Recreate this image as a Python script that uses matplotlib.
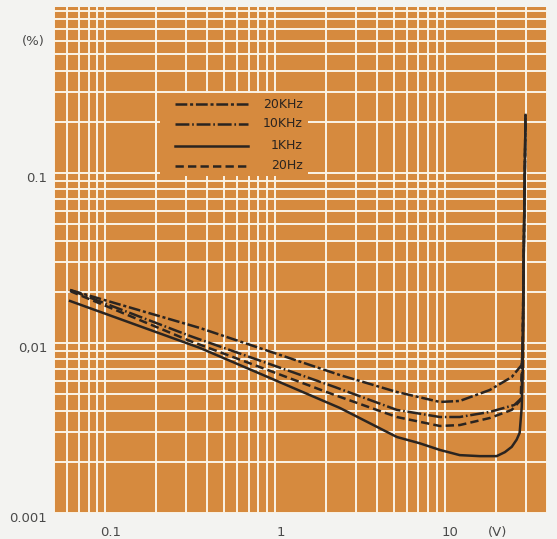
import matplotlib
matplotlib.use("Agg")
import matplotlib.pyplot as plt
from matplotlib.lines import Line2D
from matplotlib.patches import Rectangle

# ---- data (volts, distortion %) ----
x_20k = [0.0622, 0.362, 2.41, 5.22, 9.35, 12.25, 18.4, 24.8, 28.4, 28.8, 29.2, 29.9]
y_20k = [0.0205, 0.01225, 0.00648, 0.00515, 0.0045, 0.00456, 0.00529, 0.00631, 0.00743, 0.0104, 0.0352, 0.2194]

x_10k = [0.0622, 0.316, 2.25, 5.22, 9.35, 12.25, 18.4, 25.7, 28.4, 28.8, 29.2, 29.9]
y_10k = [0.0205, 0.0110, 0.00551, 0.00404, 0.00367, 0.00367, 0.00393, 0.00432, 0.00475, 0.0104, 0.0352, 0.2194]

x_1k = [0.0622, 0.362, 2.41, 5.22, 7.13, 9.35, 12.25, 16.1, 20.2, 22.6, 24.8, 26.5, 27.6, 28.4, 28.8, 29.2, 29.9]
y_1k = [0.01766, 0.00935, 0.00415, 0.0028, 0.00257, 0.00235, 0.00219, 0.00216, 0.00216, 0.00228, 0.00245, 0.0027, 0.00296, 0.0042, 0.00694, 0.0352, 0.2194]

x_20 = [0.0622, 0.316, 2.25, 5.22, 9.35, 12.25, 18.4, 24.8, 28.0, 28.8, 29.2, 29.9]
y_20 = [0.0202, 0.01028, 0.00494, 0.00367, 0.00325, 0.00329, 0.00362, 0.00404, 0.00462, 0.0104, 0.0352, 0.2194]

series_labels = ["20KHz", "10KHz", "1KHz", "20Hz"]
x_ticks = [0.1, 1, 10]
x_ticklabels = ["0.1", "1", "10"]
y_ticks = [0.001, 0.01, 0.1]
y_ticklabels = ["0.001", "0,01", "0.1"]

# ---- style ----
plt.rcParams["lines.scale_dashes"] = False
ORANGE = "#D68A3E"
GRID = "#FBF3E6"
INK = "#2A2420"
LABEL = "#4A4A4A"
styles = [
    dict(linestyle=(0, (8.5, 2.0, 2.2, 2.0))),
    dict(linestyle=(0, (10.0, 2.0, 1.2, 2.0))),
    dict(linestyle="-"),
    dict(linestyle=(0, (6.0, 3.0))),
]

fig = plt.figure(figsize=(5.57, 5.39), dpi=100, facecolor="#F3F3F1")
ax = fig.add_axes([54 / 557, 26 / 539, 493 / 557, 506 / 539])
ax.set_facecolor(ORANGE)
ax.set_xscale("log")
ax.set_yscale("log")
ax.set_xlim(0.05, 40)
ax.set_ylim(0.001, 0.947)
for s in ax.spines.values():
    s.set_visible(False)
ax.set_axisbelow(True)
ax.grid(True, which="both", color=GRID, linewidth=1.4)
ax.tick_params(which="both", length=0, labelbottom=False, labelleft=False)

data = [(x_20k, y_20k), (x_10k, y_10k), (x_1k, y_1k), (x_20, y_20)]
for (xs, ys), st in zip(data, styles):
    ax.plot(xs, ys, color=INK, linewidth=1.8, zorder=3, **st)

ax.set_xticks(x_ticks)
ax.set_yticks(y_ticks)

# tick labels (slightly offset like the printed original)
for v, t in zip(y_ticks, y_ticklabels):
    ax.annotate(t, xy=(0, v), xycoords=("axes fraction", "data"),
                xytext=(-5, -4), textcoords="offset points",
                ha="right", va="center", fontsize=9.5, color=LABEL)
ax.annotate("(%)", xy=(0, 0.59), xycoords=("axes fraction", "data"),
            xytext=(-7, 0), textcoords="offset points",
            ha="right", va="center", fontsize=9.5, color=LABEL)
for v, t in zip(x_ticks, x_ticklabels):
    ax.annotate(t, xy=(v, 0), xycoords=("data", "axes fraction"),
                xytext=(4, -14), textcoords="offset points",
                ha="center", va="center", fontsize=9.5, color=LABEL)
ax.annotate("(V)", xy=(20, 0), xycoords=("data", "axes fraction"),
            xytext=(1, -14), textcoords="offset points",
            ha="center", va="center", fontsize=9.5, color=LABEL)

# legend (box covers the grid, text right-aligned)
ax.add_patch(Rectangle((0.215, 0.666), 0.30, 0.164, transform=ax.transAxes,
                       facecolor=ORANGE, edgecolor="none", zorder=2))
leg_y = [0.8083, 0.7688, 0.7253, 0.6858]
for lab, st, yy in zip(series_labels, styles, leg_y):
    ax.add_line(Line2D([0.2454, 0.3935], [yy, yy], transform=ax.transAxes,
                       color=INK, linewidth=1.8, zorder=4, **st))
    ax.text(0.505, yy, lab, transform=ax.transAxes, ha="right", va="center",
            fontsize=9, color=INK, zorder=4)

fig.savefig("out.png", dpi=100, facecolor=fig.get_facecolor())
